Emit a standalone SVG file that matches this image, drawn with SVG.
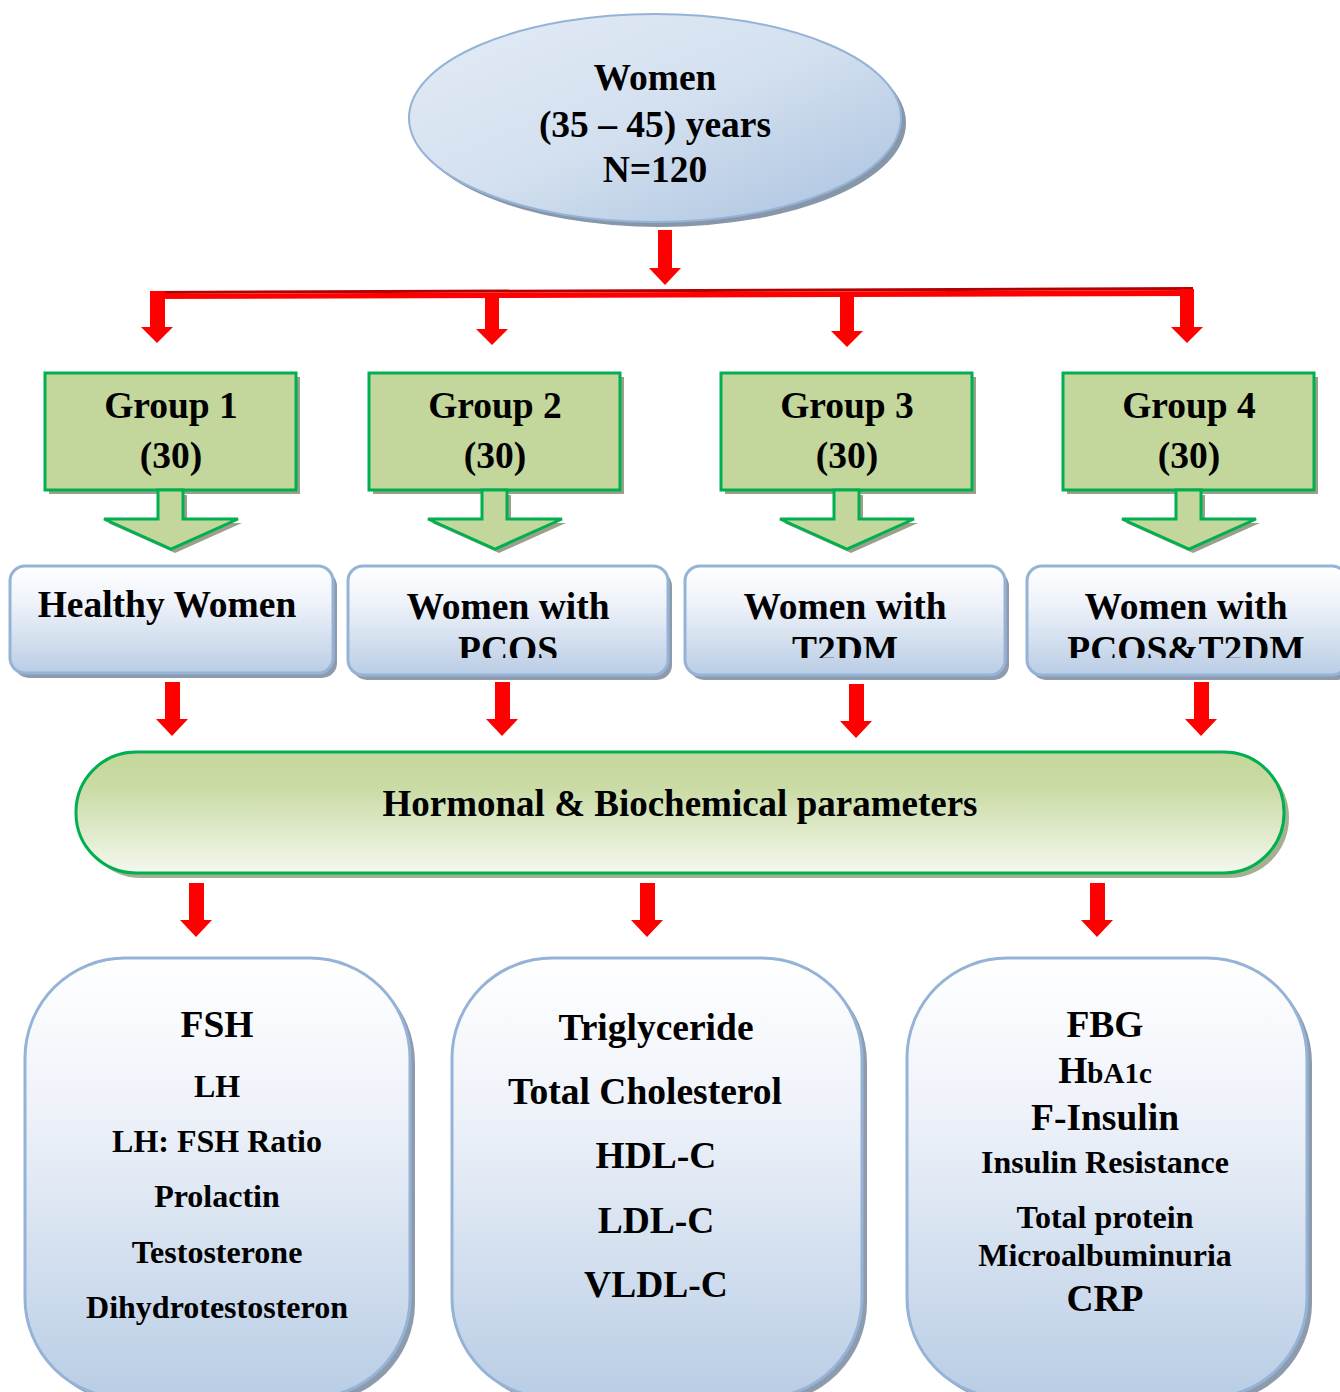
<svg xmlns="http://www.w3.org/2000/svg" width="1340" height="1392" viewBox="0 0 1340 1392">
<defs>
<linearGradient id="gEll" x1="0" y1="0" x2="1" y2="1">
<stop offset="0" stop-color="#e4ecf6"/><stop offset="0.5" stop-color="#d3e0ef"/><stop offset="1" stop-color="#a9c1df"/>
</linearGradient>
<linearGradient id="gBlue" x1="0" y1="0" x2="0" y2="1">
<stop offset="0" stop-color="#ffffff"/><stop offset="0.35" stop-color="#eef2f9"/><stop offset="1" stop-color="#b9cde5"/>
</linearGradient>
<linearGradient id="gPill" x1="0" y1="0" x2="0" y2="1">
<stop offset="0" stop-color="#c4d79b"/><stop offset="0.3" stop-color="#cadba5"/><stop offset="1" stop-color="#f4f8ee"/>
</linearGradient>
<clipPath id="c2"><rect x="340" y="560" width="340" height="98"/></clipPath>
<clipPath id="c3"><rect x="680" y="560" width="330" height="98"/></clipPath>
<clipPath id="c4"><rect x="1020" y="560" width="320" height="98"/></clipPath>
</defs>
<style>
text{font-family:"Liberation Serif","Times New Roman",serif;font-weight:bold;fill:#000;text-anchor:middle}
.big{font-size:37.5px}
.mid{font-size:32px}
.green{fill:#c3d69b;stroke:#00b050;stroke-width:3}
.gshadow{fill:#9aa08a}
.blue{fill:url(#gBlue);stroke:#95b3d7;stroke-width:3}
.bshadow{fill:#8e9bad}
.red{fill:#ff0000}
</style>

<g id="connectors">
<polygon class="red" points="658,230 672,230 672,268 681,268 665,285 649,268 658,268"/>
<polygon fill="#b30000" points="150,291 1193,287 1193,290 150,294"/>
<polygon class="red" points="150,294 1193,290 1193,296 150,299"/>
<polygon class="red" points="150,291 165,291 165,327 173,327 157,343 141,327 150,327"/>
<polygon class="red" points="485,295 499,295 499,329 508,329 492,345 476,329 485,329"/>
<polygon class="red" points="840,292 854,292 854,331 863,331 847,347 831,331 840,331"/>
<polygon class="red" points="1180,289 1194,289 1194,327 1203,327 1187,343 1171,327 1180,327"/>
<polygon class="red" points="165,682 180,682 180,719 188,719 172,736 156,719 165,719"/>
<polygon class="red" points="495,682 510,682 510,719 518,719 502,736 486,719 495,719"/>
<polygon class="red" points="849,684 864,684 864,721 872,721 856,738 840,721 849,721"/>
<polygon class="red" points="1194,682 1209,682 1209,719 1217,719 1201,736 1185,719 1194,719"/>
<polygon class="red" points="189,883 204,883 204,920 212,920 196,937 180,920 189,920"/>
<polygon class="red" points="640,883 655,883 655,920 663,920 647,937 631,920 640,920"/>
<polygon class="red" points="1090,883 1105,883 1105,920 1113,920 1097,937 1081,920 1090,920"/>
</g>

<g id="women">
<ellipse cx="660" cy="123" rx="246" ry="104" fill="#8796a8"/>
<ellipse cx="655" cy="118" rx="246" ry="104" fill="url(#gEll)" stroke="#95b3d7" stroke-width="2"/>
<text class="big" x="655" y="90">Women</text>
<text class="big" x="655" y="137">(35 – 45) years</text>
<text class="big" x="655" y="182">N=120</text>
</g>

<g id="group1">
<rect class="gshadow" x="49" y="377" width="251" height="117"/>
<polygon class="gshadow" points="162,495 187,495 187,523 242,523 175,553 108,523 162,523"/>
<rect class="green" x="45" y="373" width="251" height="117"/>
<polygon class="green" points="158,490 183,490 183,519 238,519 171,549 104,519 158,519"/>
<text class="big" x="171" y="418">Group 1</text>
<text class="big" x="171" y="468">(30)</text>
</g>
<g id="group2">
<rect class="gshadow" x="373" y="377" width="251" height="117"/>
<polygon class="gshadow" points="486,495 511,495 511,523 566,523 499,553 432,523 486,523"/>
<rect class="green" x="369" y="373" width="251" height="117"/>
<polygon class="green" points="482,490 507,490 507,519 562,519 495,549 428,519 482,519"/>
<text class="big" x="495" y="418">Group 2</text>
<text class="big" x="495" y="468">(30)</text>
</g>
<g id="group3">
<rect class="gshadow" x="725" y="377" width="251" height="117"/>
<polygon class="gshadow" points="838,495 863,495 863,523 918,523 851,553 784,523 838,523"/>
<rect class="green" x="721" y="373" width="251" height="117"/>
<polygon class="green" points="834,490 859,490 859,519 914,519 847,549 780,519 834,519"/>
<text class="big" x="847" y="418">Group 3</text>
<text class="big" x="847" y="468">(30)</text>
</g>
<g id="group4">
<rect class="gshadow" x="1067" y="377" width="251" height="117"/>
<polygon class="gshadow" points="1180,495 1205,495 1205,523 1260,523 1193,553 1126,523 1180,523"/>
<rect class="green" x="1063" y="373" width="251" height="117"/>
<polygon class="green" points="1176,490 1201,490 1201,519 1256,519 1189,549 1122,519 1176,519"/>
<text class="big" x="1189" y="418">Group 4</text>
<text class="big" x="1189" y="468">(30)</text>
</g>

<g id="healthy">
<rect class="bshadow" x="14" y="571" width="323" height="107" rx="15"/>
<rect class="blue" x="10" y="566" width="323" height="107" rx="15"/>
<text class="big" x="167" y="617">Healthy Women</text>
</g>
<g id="pcos">
<rect class="bshadow" x="352" y="571" width="320" height="109" rx="15"/>
<rect class="blue" x="348" y="566" width="320" height="109" rx="15"/>
<g clip-path="url(#c2)">
<text class="big" x="508" y="619">Women with</text>
<text class="big" x="508" y="662">PCOS</text>
</g>
</g>
<g id="t2dm">
<rect class="bshadow" x="689" y="571" width="320" height="109" rx="15"/>
<rect class="blue" x="685" y="566" width="320" height="109" rx="15"/>
<g clip-path="url(#c3)">
<text class="big" x="845" y="619">Women with</text>
<text class="big" x="845" y="662">T2DM</text>
</g>
</g>
<g id="pcost2dm">
<rect class="bshadow" x="1031" y="571" width="320" height="109" rx="15"/>
<rect class="blue" x="1027" y="566" width="320" height="109" rx="15"/>
<g clip-path="url(#c4)">
<text class="big" x="1186" y="619">Women with</text>
<text class="big" x="1186" y="662">PCOS&amp;T2DM</text>
</g>
</g>

<g id="params">
<rect x="81" y="757" width="1208" height="121" rx="60" fill="#a4b08f"/>
<rect x="76" y="752" width="1208" height="121" rx="60" fill="url(#gPill)" stroke="#00b050" stroke-width="3"/>
<text x="680" y="816" style="font-size:37px">Hormonal &amp; Biochemical parameters</text>
</g>

<g id="hormones">
<rect class="bshadow" x="30" y="963" width="385" height="440" rx="100"/>
<rect class="blue" x="25" y="958" width="385" height="440" rx="100"/>
<text class="big" x="217" y="1037">FSH</text>
<text class="mid" x="217" y="1097">LH</text>
<text class="mid" x="217" y="1152">LH: FSH Ratio</text>
<text class="mid" x="217" y="1207">Prolactin</text>
<text class="mid" x="217" y="1263">Testosterone</text>
<text class="mid" x="217" y="1318">Dihydrotestosteron</text>
</g>

<g id="lipids">
<rect class="bshadow" x="457" y="963" width="410" height="440" rx="100"/>
<rect class="blue" x="452" y="958" width="410" height="440" rx="100"/>
<text class="big" x="656" y="1040">Triglyceride</text>
<text class="big" x="645" y="1104">Total Cholesterol</text>
<text class="big" x="656" y="1168">HDL-C</text>
<text class="big" x="656" y="1233">LDL-C</text>
<text class="big" x="656" y="1297">VLDL-C</text>
</g>

<g id="glycemic">
<rect class="bshadow" x="912" y="963" width="400" height="440" rx="100"/>
<rect class="blue" x="907" y="958" width="400" height="440" rx="100"/>
<text class="big" x="1105" y="1037">FBG</text>
<text x="1105" y="1083" style="font-size:37.5px">H<tspan style="font-size:29px">bA1c</tspan></text>
<text class="big" x="1105" y="1130">F-Insulin</text>
<text class="mid" x="1105" y="1173">Insulin Resistance</text>
<text class="mid" x="1105" y="1228">Total protein</text>
<text class="mid" x="1105" y="1266">Microalbuminuria</text>
<text class="big" x="1105" y="1311">CRP</text>
</g>
</svg>
